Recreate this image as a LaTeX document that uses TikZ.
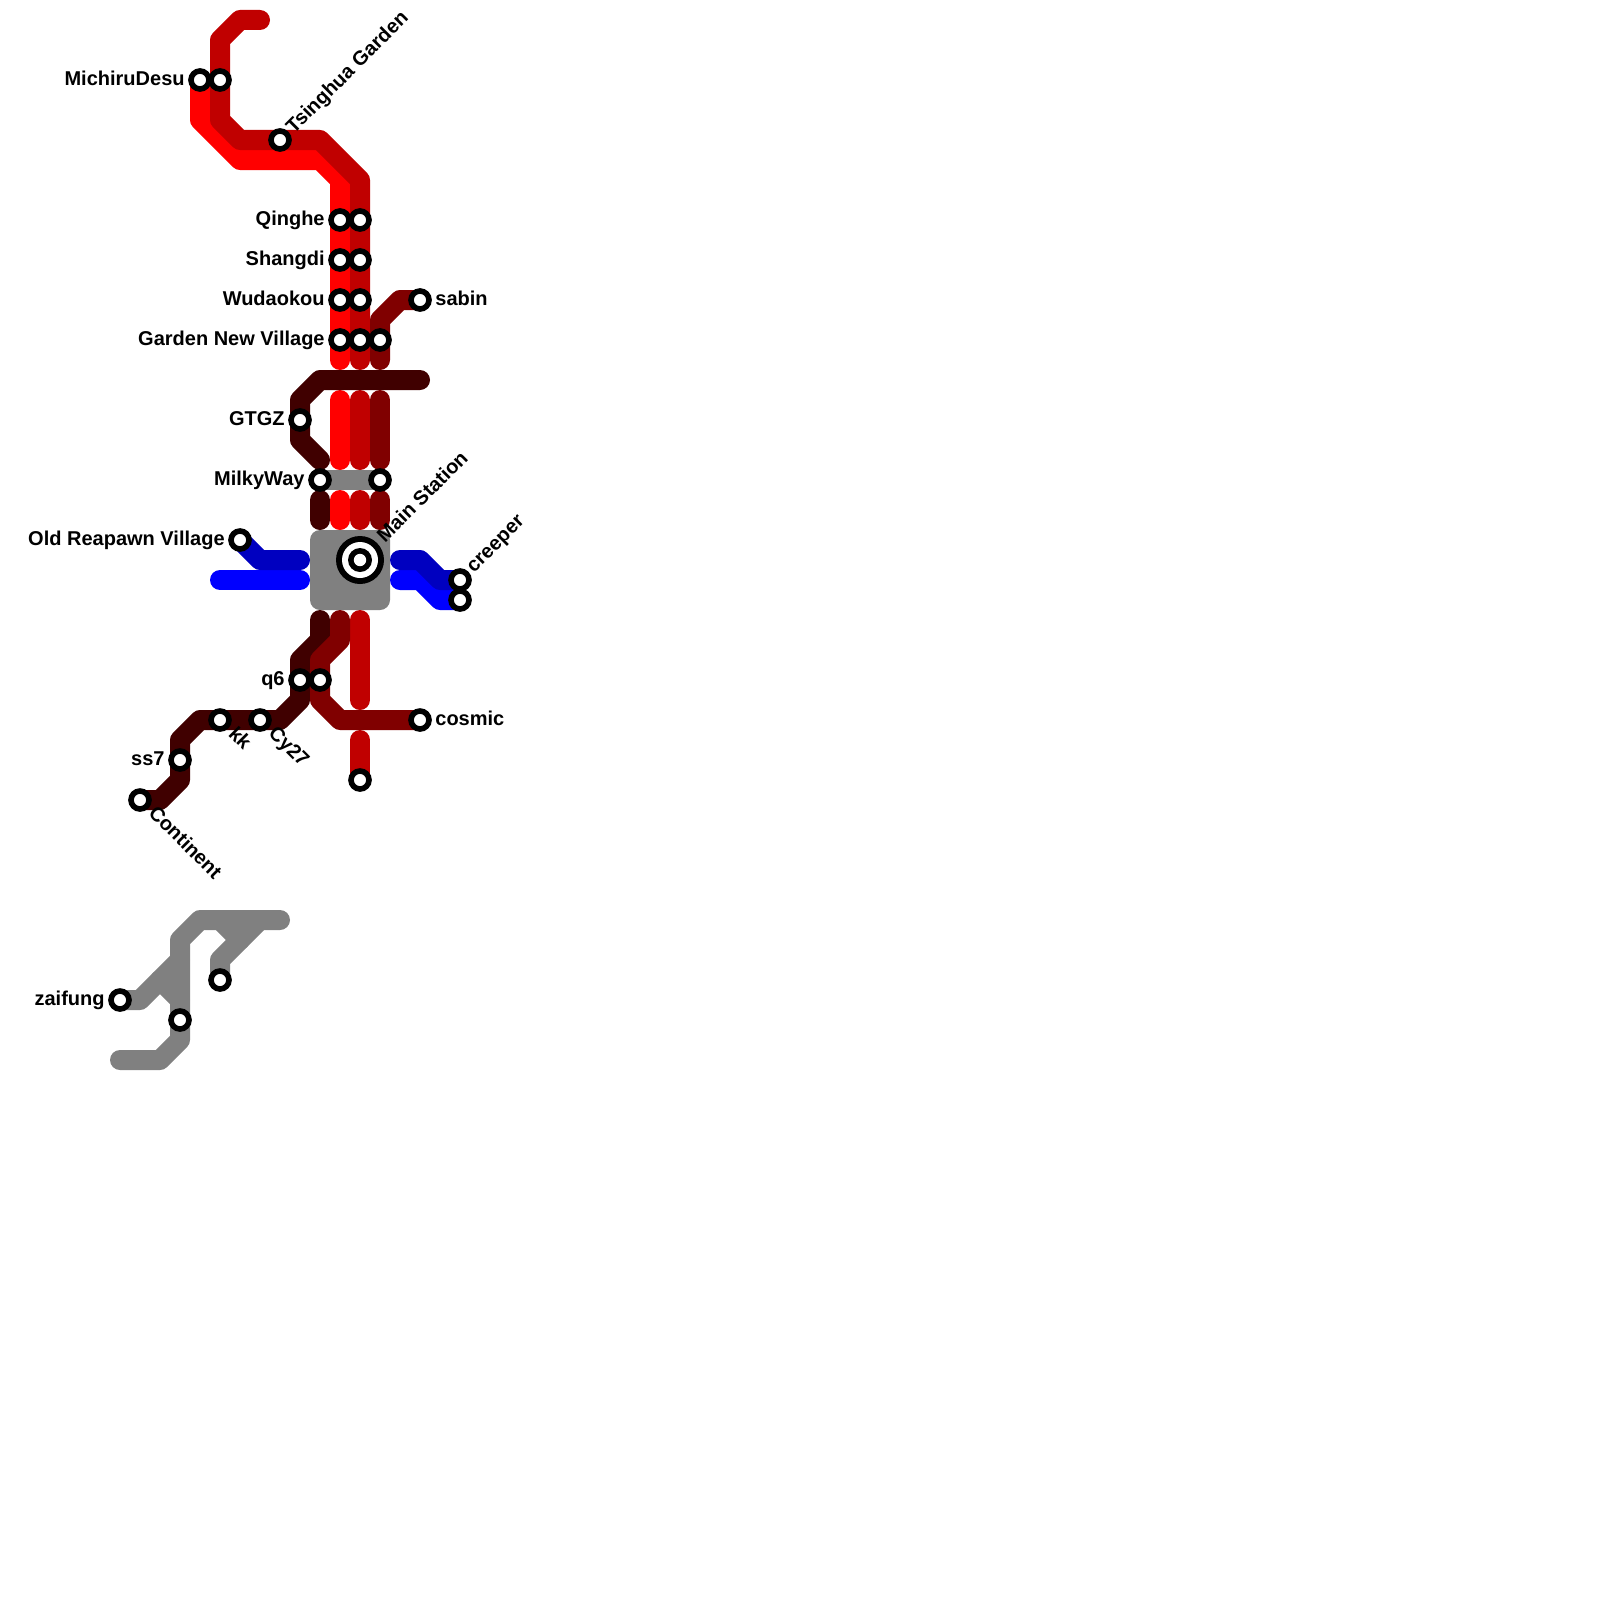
\documentclass[tikz,border=0pt]{standalone}
\usepackage{fontspec}
\setmainfont{Liberation Sans}
\pgfdeclarelayer{lines}
\pgfsetlayers{lines,main}
\definecolor{lred}{HTML}{FF0000}
\definecolor{lcrim}{HTML}{C00000}
\definecolor{lmaroon}{HTML}{800000}
\definecolor{ldark}{HTML}{400000}
\definecolor{lnavy}{HTML}{0000C0}
\definecolor{lblue}{HTML}{0000FF}
\definecolor{lgray}{HTML}{808080}
\tikzset{
  x=0.5pt,y=-0.5pt,
  metro/.style={line width=10pt,line cap=round,line join=round},
  stn/.style={circle,draw=black,fill=white,line width=2.8pt,minimum size=9pt,inner sep=0pt,outer sep=0pt},
  lab/.style={font=\bfseries\fontsize{10pt}{11pt}\selectfont,inner sep=0pt,text=black},
  labl/.style={lab,anchor=mid east},
  labr/.style={lab,anchor=mid west},
  labu/.style={lab,anchor=mid west,rotate=45},
  labd/.style={lab,anchor=mid west,rotate=-45},
}
\begin{document}
\begin{tikzpicture}
\useasboundingbox (0,0) rectangle (1600,1600);
% stations
\foreach \n/\x/\y in {mich/200/80,michb/220/80,tsing/280/140,qa/340/220,qb/360/220,sa/340/260,sb/360/260,wa/340/300,wb/360/300,sabin/420/300,ga/340/340,gb/360/340,gc/380/340,gtgz/300/420,mwa/320/480,mwb/380/480,old/240/540,crA/460/580,crB/460/600,qsix/300/680,qsixb/320/680,kk/220/720,cy/260/720,cosmic/420/720,ss/180/760,endc/360/780,cont/140/800,gtwo/220/980,zai/120/1000,gone/180/1020}
  {\node[stn] (\n) at (\x,\y) {};}
% interchange
\coordinate (hubc) at (360,560);
\begin{pgfonlayer}{lines}
\node[fill=lgray,rounded corners=5pt,minimum size=40pt,inner sep=0pt,outer sep=0pt] (hub) at (350,570) {};
\end{pgfonlayer}
\node[circle,fill=black,minimum size=24pt,inner sep=0pt] (mo) at (hubc) {};
\node[circle,fill=white,minimum size=18pt,inner sep=0pt] (mi) at (hubc) {};
\node[circle,fill=black,minimum size=12pt,inner sep=0pt] (ms) at (hubc) {};
\node[circle,fill=white,minimum size=6.2pt,inner sep=0pt] (mt) at (hubc) {};
% free ends
\foreach \n/\x/\y in {ra/340/360,rb/340/400,rc/340/460,rd/340/500,re/340/520,
 ca/260/20,cb/360/360,cc/360/400,cd/360/460,ce/360/500,cf/360/520,cg/360/620,ch/360/700,ci/360/740,
 mb/380/360,mc/380/400,md/380/460,me/380/500,mf/380/520,mg/340/620,
 da/420/380,dd/320/460,de/320/500,df/320/520,dg/320/620,
 bl/300/560,bn/220/580,bo/300/580,bp/400/560,bq/400/580,
 gt/280/920,gb2/120/1060,gc1/160/980,gc2/180/1000,gd1/220/920,gd2/240/940}
  {\coordinate (\n) at (\x,\y);}
\begin{pgfonlayer}{lines}
\draw[metro,lgray] (mwa.center) -- (mwb.center);
\draw[metro,lred] (mich.center) -- (200,120) -- (240,160) -- (320,160) -- (340,180) -- (ga.center) -- (ra);
\draw[metro,lred] (rb) -- (rc);
\draw[metro,lred] (rd) -- (re);
\draw[metro,lcrim] (ca) -- (240,20) -- (220,40) -- (michb.center) -- (220,120) -- (240,140) -- (tsing.center) -- (320,140) -- (360,180) -- (gb.center) -- (cb);
\draw[metro,lcrim] (cc) -- (cd);
\draw[metro,lcrim] (ce) -- (cf);
\draw[metro,lcrim] (cg) -- (ch);
\draw[metro,lcrim] (ci) -- (endc.center);
\draw[metro,ldark] (da) -- (320,380) -- (300,400) -- (gtgz.center) -- (300,440) -- (dd);
\draw[metro,ldark] (de) -- (df);
\draw[metro,ldark] (dg) -- (320,640) -- (300,660) -- (qsix.center) -- (300,700) -- (280,720) -- (cy.center) -- (kk.center) -- (200,720) -- (180,740) -- (ss.center) -- (180,780) -- (160,800) -- (cont.center);
\draw[metro,lmaroon] (sabin.center) -- (400,300) -- (380,320) -- (gc.center) -- (mb);
\draw[metro,lmaroon] (mc) -- (md);
\draw[metro,lmaroon] (me) -- (mf);
\draw[metro,lmaroon] (mg) -- (340,640) -- (320,660) -- (qsixb.center) -- (320,700) -- (340,720) -- (cosmic.center);
\draw[metro,lblue] (bn) -- (bo);
\draw[metro,lnavy] (old.center) -- (260,560) -- (bl);
\draw[metro,lblue] (bq) -- (420,580) -- (440,600) -- (crB.center);
\draw[metro,lnavy] (bp) -- (420,560) -- (440,580) -- (crA.center);
\draw[metro,lgray] (gt) -- (200,920) -- (180,940) -- (gone.center) -- (180,1040) -- (160,1060) -- (gb2);
\draw[metro,lgray] (zai.center) -- (140,1000) -- (180,960);
\draw[metro,lgray] (gc1) -- (gc2);
\draw[metro,lgray] (gtwo.center) -- (220,960) -- (260,920);
\draw[metro,lgray] (gd1) -- (gd2);
\end{pgfonlayer}
% labels
\node[labl] (t1) at (185,80) {MichiruDesu};
\node[labu] (t2) at (290,131) {Tsinghua Garden};
\node[labl] (t3) at (325,220) {Qinghe};
\node[labl] (t4) at (325,260) {Shangdi};
\node[labl] (t5) at (325,300) {Wudaokou};
\node[labl] (t6) at (325,340) {Garden New Village};
\node[labr] (t7) at (435,300) {sabin};
\node[labl] (t8) at (285,420) {GTGZ};
\node[labl] (t9) at (305,480) {MilkyWay};
\node[labu] (t10) at (381,540) {Main Station};
\node[labl] (t11) at (225,540) {Old Reapawn Village};
\node[labu] (t12) at (470,570) {creeper};
\node[labl] (t13) at (285,680) {q6};
\node[labr] (t14) at (435,720) {cosmic};
\node[labd] (t15) at (231,731) {kk};
\node[labd] (t16) at (271,730) {Cy27};
\node[labl] (t17) at (165,760) {ss7};
\node[labd] (t18) at (151,810) {Continent};
\node[labl] (t19) at (105,1000) {zaifung};
\end{tikzpicture}
\end{document}
